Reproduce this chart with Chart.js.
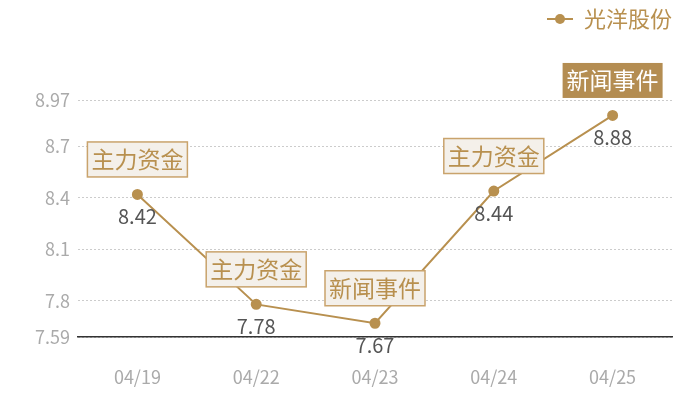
<!DOCTYPE html>
<html lang="zh">
<head>
  <meta charset="UTF-8">
  <title>光洋股份</title>
  <script src="https://cdn.jsdelivr.net/npm/chart.js"></script>
  <style>
    html, body { margin: 0; padding: 0; background: #fff; }
    #wrap { width: 700px; height: 400px; }
  </style>
</head>
<body>
  <div id="wrap"><canvas id="priceChart"></canvas></div>

  <script>
    const dates = ['04/19', '04/22', '04/23', '04/24', '04/25'];
    const prices = [8.42, 7.78, 7.67, 8.44, 8.88];
    const events = ['主力资金', '主力资金', '新闻事件', '主力资金', '新闻事件'];
    const highlighted = [false, false, false, false, true];
    const yTicks = [7.59, 7.8, 8.1, 8.4, 8.7, 8.97];

    const gold = '#b8904f';
    const font = '"Noto Sans CJK SC", "Noto Sans", sans-serif';

    // legend icon: short line with a dot in the middle
    const icon = document.createElement('canvas');
    icon.width = 26; icon.height = 12;
    const ic = icon.getContext('2d');
    ic.strokeStyle = gold; ic.lineWidth = 2;
    ic.beginPath(); ic.moveTo(0, 6); ic.lineTo(26, 6); ic.stroke();
    ic.fillStyle = gold;
    ic.beginPath(); ic.arc(13, 6, 5, 0, Math.PI * 2); ic.fill();

    const legendHeight = {
      id: 'legendHeight',
      beforeLayout(chart) {
        const lg = chart.legend;
        if (lg && !lg._patched) {
          const fit = lg.fit;
          lg.fit = function () { fit.call(this); this.height = 92; };
          lg._patched = true;
        }
      }
    };

    // value labels under points + event boxes above them
    const pointNotes = {
      id: 'pointNotes',
      afterDatasetsDraw(chart) {
        const ctx = chart.ctx;
        const meta = chart.getDatasetMeta(0);
        meta.data.forEach((pt, i) => {
          ctx.save();
          ctx.font = '20px ' + font;
          ctx.fillStyle = '#555';
          ctx.textAlign = 'center';
          ctx.textBaseline = 'middle';
          ctx.fillText(prices[i].toFixed(2), pt.x, pt.y + 22);

          ctx.font = '23px ' + font;
          const w = ctx.measureText(events[i]).width + 8;
          const h = 35;
          const bx = pt.x - w / 2;
          const by = pt.y - 35 - h / 2;
          if (highlighted[i]) {
            ctx.fillStyle = '#b48d52';
            ctx.fillRect(bx, by, w, h);
            ctx.fillStyle = '#fff';
          } else {
            ctx.fillStyle = '#f4f0ea';
            ctx.fillRect(bx, by, w, h);
            ctx.strokeStyle = '#c9a36c';
            ctx.lineWidth = 1.5;
            ctx.strokeRect(bx, by, w, h);
            ctx.fillStyle = gold;
          }
          ctx.fillText(events[i], pt.x, pt.y - 35);
          ctx.restore();
        });
      }
    };

    new Chart(document.getElementById('priceChart'), {
      type: 'line',
      data: {
        labels: dates,
        datasets: [{
          label: '光洋股份',
          data: prices,
          borderColor: gold,
          backgroundColor: gold,
          borderWidth: 2,
          pointRadius: 4.5,
          pointHoverRadius: 4.5,
          tension: 0
        }]
      },
      options: {
        responsive: true,
        maintainAspectRatio: false,
        animation: false,
        layout: { padding: { top: 8, right: 28, left: 0, bottom: 0 } },
        plugins: {
          tooltip: { enabled: false },
          legend: {
            position: 'top',
            align: 'end',
            labels: {
              usePointStyle: true,
              pointStyle: icon,
              pointStyleWidth: 26,
              padding: 0,
              color: gold,
              font: { size: 22, family: font }
            }
          }
        },
        scales: {
          x: {
            offset: true,
            grid: { display: false },
            border: { display: true, color: '#333', width: 1.5 },
            ticks: { color: '#aaa', padding: 21, font: { size: 18, family: font } },
            afterFit(scale) { scale.height = 63; }
          },
          y: {
            min: 7.59,
            max: 8.97,
            border: { display: false, dash: [2, 2] },
            grid: { color: '#ccc', drawTicks: false },
            ticks: {
              color: '#aaa', padding: 8, font: { size: 18, family: font },
              callback: v => String(v)
            },
            afterBuildTicks(scale) { scale.ticks = yTicks.map(v => ({ value: v })); },
            afterFit(scale) { scale.width = 78; }
          }
        }
      },
      plugins: [legendHeight, pointNotes]
    });
  </script>
</body>
</html>
